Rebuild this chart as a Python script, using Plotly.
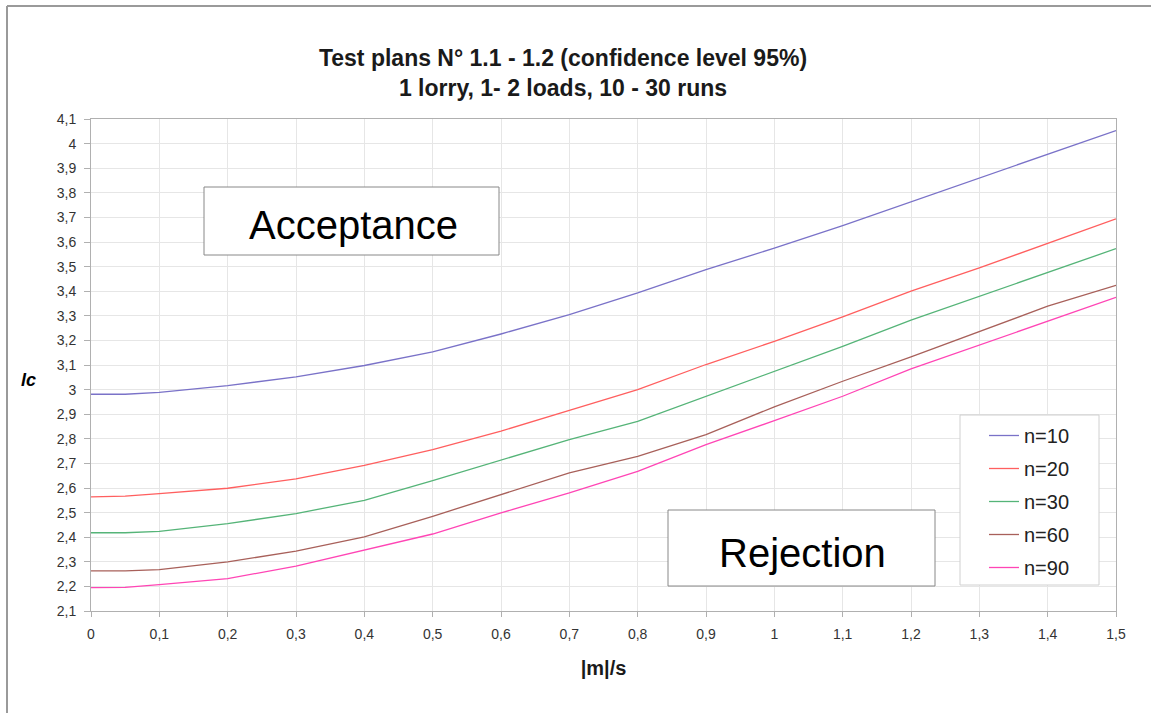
import plotly.graph_objects as go

# |m|/s values and acceptance limits for each sample size
ms = [0, 0.05, 0.1, 0.2, 0.3, 0.4, 0.5, 0.6, 0.7, 0.8, 0.9, 1.0, 1.1, 1.2, 1.3, 1.4, 1.5]

lc_n10 = [2.981, 2.981, 2.989, 3.016, 3.052, 3.098, 3.153, 3.226, 3.305, 3.393, 3.488,
          3.575, 3.667, 3.763, 3.859, 3.958, 4.053]
lc_n20 = [2.564, 2.567, 2.577, 2.599, 2.637, 2.692, 2.756, 2.831, 2.916, 3.000, 3.102,
          3.196, 3.296, 3.400, 3.495, 3.593, 3.694]
lc_n30 = [2.418, 2.418, 2.424, 2.455, 2.496, 2.550, 2.630, 2.715, 2.797, 2.871, 2.973,
          3.074, 3.176, 3.282, 3.379, 3.474, 3.573]
lc_n60 = [2.263, 2.263, 2.268, 2.300, 2.343, 2.401, 2.485, 2.573, 2.661, 2.729, 2.817,
          2.930, 3.034, 3.133, 3.237, 3.339, 3.424]
lc_n90 = [2.195, 2.196, 2.207, 2.232, 2.282, 2.347, 2.413, 2.499, 2.580, 2.668, 2.776,
          2.874, 2.973, 3.084, 3.182, 3.278, 3.375]

series_names = ["n=10", "n=20", "n=30", "n=60", "n=90"]
series_values = [lc_n10, lc_n20, lc_n30, lc_n60, lc_n90]
series_colors = ["#7a72c8", "#ff5f5f", "#55b478", "#a8605a", "#ff45b5"]

FONT = "Liberation Sans, Arial, sans-serif"

fig = go.Figure()
for i, (name, vals, col) in enumerate(zip(series_names, series_values, series_colors)):
    fig.add_trace(go.Scatter(
        x=ms, y=vals, name=name, mode="lines",
        line=dict(color=col, width=1.3),
        legendgroup=f"g{i}",
    ))

W, H = 1151, 713
L, R, T, B = 91, 35, 119, 102
PW = W - L - R          # plot width in px
PH = H - T - B          # plot height in px
Y0 = H - B              # px row of the plot bottom


def px_x(p):
    return (p - L) / PW


def px_y(p):
    return (Y0 - p) / PH


fig.update_layout(
    width=W, height=H,
    margin=dict(l=L, r=R, t=T, b=B),
    paper_bgcolor="white", plot_bgcolor="white",
    separators=", ",
    font=dict(family=FONT, color="#333333", size=14),
    title=dict(
        text="<b>Test plans N° 1.1 - 1.2 (confidence level 95%)<br>1 lorry, 1- 2 loads, 10 - 30 runs</b>",
        x=563 / W, xanchor="center", y=1 - 66 / H, yanchor="top",
        font=dict(family=FONT, size=23, color="#1a1a1a"),
    ),
    xaxis=dict(
        range=[0, 1.5], dtick=0.1, tick0=0,
        showgrid=True, gridcolor="#e6e6e6", gridwidth=1,
        showline=True, linecolor="#b0b0b0", linewidth=1, mirror=True,
        ticks="outside", ticklen=5, tickcolor="#b0b0b0",
        ticklabelstandoff=5,
        tickfont=dict(size=14, color="#333333"),
        zeroline=False,
        title=dict(text="<b>|m|/s</b>", font=dict(size=20, color="#1a1a1a"), standoff=20),
    ),
    yaxis=dict(
        range=[2.1, 4.1], dtick=0.1, tick0=2.1,
        showgrid=True, gridcolor="#e6e6e6", gridwidth=1,
        showline=True, linecolor="#b0b0b0", linewidth=1, mirror=True,
        ticks="outside", ticklen=6, tickcolor="#b0b0b0",
        ticklabelstandoff=5,
        tickfont=dict(size=14, color="#333333"),
        zeroline=False,
    ),
    legend=dict(
        x=px_x(984), y=px_y(416),
        xanchor="left", yanchor="top",
        bgcolor="rgba(0,0,0,0)", borderwidth=0,
        font=dict(size=20, color="#222222"),
        traceorder="grouped", tracegroupgap=4,
        itemwidth=30,
    ),
    showlegend=True,
)

# legend frame
fig.add_shape(type="rect", xref="paper", yref="paper",
              x0=px_x(960), x1=px_x(1099), y0=px_y(585), y1=px_y(415),
              line=dict(color="#d0d0d0", width=1), fillcolor="white", layer="above")

# Region boxes
fig.add_shape(type="rect", xref="paper", yref="paper",
              x0=px_x(204), x1=px_x(499), y0=px_y(255), y1=px_y(187),
              line=dict(color="#888888", width=1), fillcolor="white", layer="above")
fig.add_annotation(xref="paper", yref="paper", x=px_x(353), y=px_y(225),
                   xanchor="center", yanchor="middle",
                   text="Acceptance", showarrow=False,
                   font=dict(family=FONT, size=40, color="#000000"))

fig.add_shape(type="rect", xref="paper", yref="paper",
              x0=px_x(668), x1=px_x(935), y0=px_y(586), y1=px_y(510),
              line=dict(color="#888888", width=1), fillcolor="white", layer="above")
fig.add_annotation(xref="paper", yref="paper", x=px_x(802), y=px_y(553),
                   xanchor="center", yanchor="middle",
                   text="Rejection", showarrow=False,
                   font=dict(family=FONT, size=40, color="#000000"))

# y-axis label
fig.add_annotation(xref="paper", yref="paper", x=px_x(28), y=px_y(380),
                   xanchor="center", yanchor="middle",
                   text="<b><i>lc</i></b>", showarrow=False,
                   font=dict(family=FONT, size=18, color="#000000"))

# outer chart frame (left and top edges)
fig.add_shape(type="line", xref="paper", yref="paper",
              x0=px_x(7), x1=px_x(7), y0=px_y(713), y1=px_y(6),
              line=dict(color="#9a9a9a", width=2))
fig.add_shape(type="line", xref="paper", yref="paper",
              x0=px_x(7), x1=px_x(1151), y0=px_y(6), y1=px_y(6),
              line=dict(color="#9a9a9a", width=2))

fig.write_html("out.html")
